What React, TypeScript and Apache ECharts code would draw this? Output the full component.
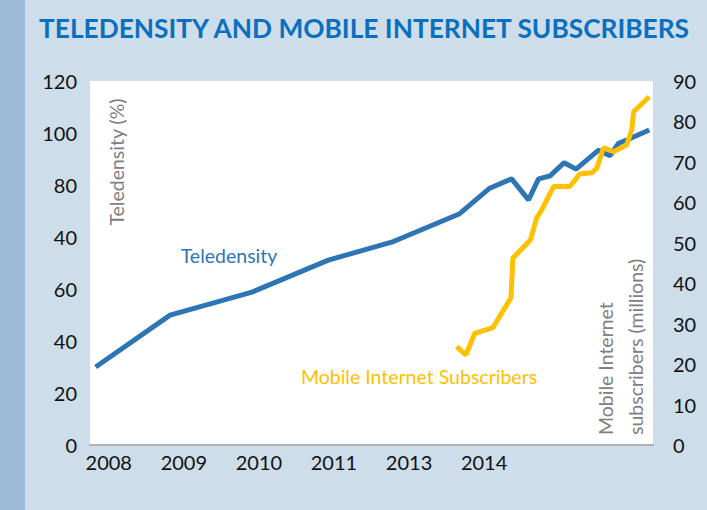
import React, { useEffect, useRef } from 'react';
import * as echarts from 'echarts';

const chartTitle = 'TELEDENSITY AND MOBILE INTERNET SUBSCRIBERS';
const xTickLabels = ['2008', '2009', '2010', '2011', '2013', '2014'];
const xTickMonths = [3, 15, 27, 39, 51, 63];
const leftTickLabels = ['0', '20', '40', '60', '40', '80', '100', '120'];

const teleMonths = [0.9, 12.8, 25.9, 38.1, 48.5, 59.0, 63.9, 67.4, 70.1, 71.7, 73.5, 75.8, 77.7, 81.3, 83.1, 84.5, 85.8, 89.4];
const teleValues = [19.3, 32.1, 37.8, 45.7, 50.3, 57.1, 63.5, 65.8, 60.6, 65.8, 66.5, 69.8, 68.2, 72.9, 71.5, 74.6, 75.4, 77.9];

const mobileMonths = [58.6, 60.1, 61.5, 64.4, 65.8, 67.3, 67.6, 70.4, 71.4, 72.2, 74.1, 76.7, 78.3, 80.2, 81.0, 82.1, 83.7, 85.8, 86.6, 86.9, 89.4];
const mobileValues = [24.3, 22.3, 27.6, 29.0, 32.6, 36.4, 46.2, 50.7, 56.1, 58.1, 63.9, 63.9, 67.0, 67.3, 68.4, 73.5, 72.5, 74.2, 77.9, 82.4, 86.1];

const FONT = 'Lato';

export default function App() {
  const ref = useRef<HTMLDivElement>(null);
  useEffect(() => {
    if (!ref.current) return;
    const chart = echarts.init(ref.current, undefined, { renderer: 'svg' });
    const option: any = {
      animation: false,
      backgroundColor: '#cddeea',
      textStyle: { fontFamily: FONT },
      title: {
        text: chartTitle,
        left: 34,
        top: 10,
        textStyle: { fontFamily: FONT, fontWeight: 'bold', fontSize: 26.3, color: '#0a6fbf' },
      },
      grid: {
        left: 90,
        right: 54,
        top: 81,
        bottom: 65,
        show: true,
        backgroundColor: '#ffffff',
        borderWidth: 0,
      },
      xAxis: [
        {
          type: 'value',
          min: 0,
          max: 90,
          interval: 3,
          axisLine: { show: true, lineStyle: { color: '#b3b3b3', width: 2 } },
          axisTick: { show: false },
          splitLine: { show: false },
          axisLabel: {
            margin: 7,
            fontFamily: FONT,
            fontSize: 20,
            color: '#111111',
            formatter: (v: number) => {
              const r = Math.round(v);
              if (Math.abs(v - r) > 1e-6) return '';
              const i = xTickMonths.indexOf(r);
              return i >= 0 ? xTickLabels[i] : '';
            },
          },
        },
        {
          type: 'value',
          position: 'top',
          min: 0,
          max: 90,
          interval: 3,
          axisLine: { show: true, lineStyle: { color: '#b3b3b3', width: 2 } },
          axisTick: { show: false },
          splitLine: { show: false },
          axisLabel: { show: false },
        },
      ],
      yAxis: [
        {
          type: 'value',
          position: 'left',
          min: 0,
          max: 7,
          interval: 1,
          axisLine: { show: false },
          axisTick: { show: false },
          splitLine: { show: false },
          axisLabel: {
            margin: 13,
            fontFamily: FONT,
            fontSize: 20,
            color: '#111111',
            formatter: (v: number) => leftTickLabels[Math.round(v)] ?? '',
          },
        },
        {
          type: 'value',
          position: 'right',
          min: 0,
          max: 90,
          interval: 10,
          axisLine: { show: false },
          axisTick: { show: false },
          splitLine: { show: false },
          axisLabel: {
            margin: 20,
            fontFamily: FONT,
            fontSize: 20,
            color: '#111111',
            padding: [6, 0, 0, 0],
          },
        },
      ],
      series: [
        {
          name: 'Teledensity',
          type: 'line',
          xAxisIndex: 0,
          yAxisIndex: 1,
          symbol: 'none',
          data: teleMonths.map((m, i) => [m, teleValues[i]]),
          lineStyle: { color: '#2e75b6', width: 5 },
          z: 2,
        },
        {
          name: 'Mobile Internet Subscribers',
          type: 'line',
          xAxisIndex: 0,
          yAxisIndex: 1,
          symbol: 'none',
          data: mobileMonths.map((m, i) => [m, mobileValues[i]]),
          lineStyle: { color: '#ffc000', width: 5 },
          z: 3,
        },
      ],
      graphic: [
        {
          type: 'rect',
          shape: { x: 0, y: 0, width: 25, height: 510 },
          style: { fill: '#9dbbd6' },
          z: 1,
        },
        {
          type: 'text',
          x: 116,
          y: 162,
          rotation: Math.PI / 2,
          style: {
            text: 'Teledensity (%)',
            fontFamily: FONT,
            fontSize: 19.5,
            fill: '#808080',
            align: 'center',
            verticalAlign: 'middle',
          },
          z: 10,
        },
        {
          type: 'text',
          x: 620,
          y: 435,
          rotation: Math.PI / 2,
          style: {
            text: 'Mobile Internet\nsubscribers (millions)',
            fontFamily: FONT,
            fontSize: 19.5,
            lineHeight: 30,
            fill: '#808080',
            align: 'left',
            verticalAlign: 'middle',
          },
          z: 10,
        },
        {
          type: 'text',
          x: 229,
          y: 255,
          style: {
            text: 'Teledensity',
            fontFamily: FONT,
            fontSize: 19.5,
            fill: '#2e75b6',
            align: 'center',
            verticalAlign: 'middle',
          },
          z: 10,
        },
        {
          type: 'text',
          x: 419,
          y: 376,
          style: {
            text: 'Mobile Internet Subscribers',
            fontFamily: FONT,
            fontSize: 19.5,
            fill: '#ffc000',
            align: 'center',
            verticalAlign: 'middle',
          },
          z: 10,
        },
      ],
    };
    chart.setOption(option);
    return () => chart.dispose();
  }, []);
  return (
    <div
      ref={ref}
      style={{ position: 'absolute', left: 0, top: 0, width: 707, height: 510 }}
    />
  );
}
